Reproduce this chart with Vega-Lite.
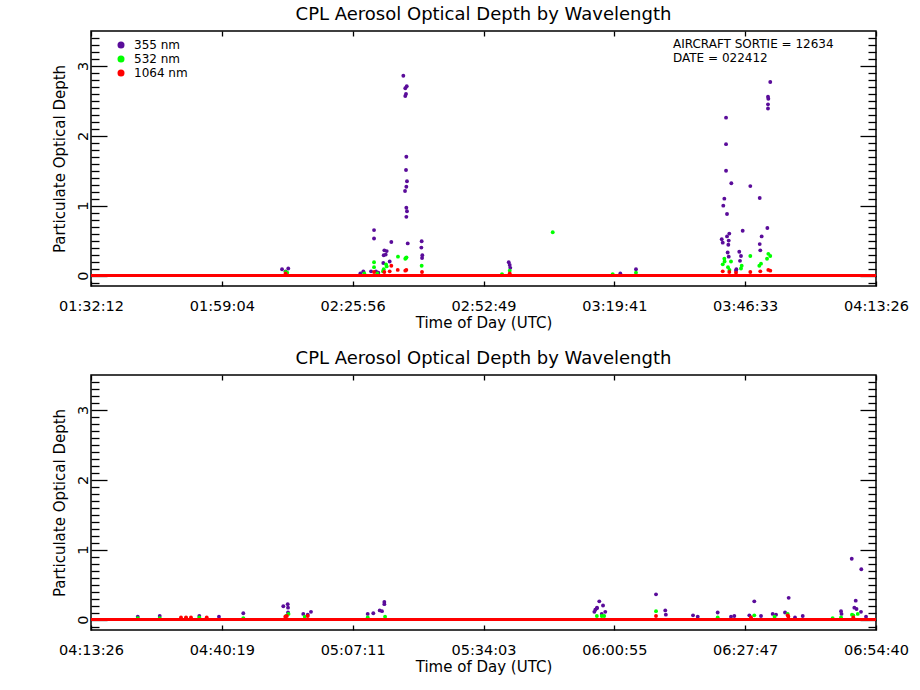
{
  "$schema": "https://vega.github.io/schema/vega-lite/v6.json",
  "padding": {"left": 51, "top": 5, "right": 5, "bottom": 5},
  "datasets": {
    "sortie1": [
      {"t": 7886, "wl": "355 nm", "aod": 0.09},
      {"t": 7963, "wl": "355 nm", "aod": 0.10},
      {"t": 7930, "wl": "355 nm", "aod": 0.06},
      {"t": 8851, "wl": "355 nm", "aod": 0.03},
      {"t": 8888, "wl": "355 nm", "aod": 0.06},
      {"t": 8983, "wl": "355 nm", "aod": 0.06},
      {"t": 9020, "wl": "355 nm", "aod": 0.65},
      {"t": 9020, "wl": "355 nm", "aod": 0.53},
      {"t": 9044, "wl": "355 nm", "aod": 0.06},
      {"t": 9073, "wl": "355 nm", "aod": 0.04},
      {"t": 9134, "wl": "355 nm", "aod": 0.18},
      {"t": 9139, "wl": "355 nm", "aod": 0.29},
      {"t": 9147, "wl": "355 nm", "aod": 0.36},
      {"t": 9164, "wl": "355 nm", "aod": 0.30},
      {"t": 9176, "wl": "355 nm", "aod": 0.35},
      {"t": 9213, "wl": "355 nm", "aod": 0.20},
      {"t": 9233, "wl": "355 nm", "aod": 0.48},
      {"t": 9381, "wl": "355 nm", "aod": 2.86},
      {"t": 9423, "wl": "355 nm", "aod": 2.71},
      {"t": 9405, "wl": "355 nm", "aod": 2.68},
      {"t": 9414, "wl": "355 nm", "aod": 2.60},
      {"t": 9405, "wl": "355 nm", "aod": 2.57},
      {"t": 9418, "wl": "355 nm", "aod": 1.70},
      {"t": 9414, "wl": "355 nm", "aod": 1.51},
      {"t": 9426, "wl": "355 nm", "aod": 1.35},
      {"t": 9418, "wl": "355 nm", "aod": 1.27},
      {"t": 9402, "wl": "355 nm", "aod": 1.21},
      {"t": 9418, "wl": "355 nm", "aod": 0.97},
      {"t": 9426, "wl": "355 nm", "aod": 0.92},
      {"t": 9418, "wl": "355 nm", "aod": 0.84},
      {"t": 9435, "wl": "355 nm", "aod": 0.46},
      {"t": 9607, "wl": "355 nm", "aod": 0.49},
      {"t": 9603, "wl": "355 nm", "aod": 0.40},
      {"t": 9615, "wl": "355 nm", "aod": 0.29},
      {"t": 9612, "wl": "355 nm", "aod": 0.25},
      {"t": 10680, "wl": "355 nm", "aod": 0.19},
      {"t": 10692, "wl": "355 nm", "aod": 0.15},
      {"t": 10699, "wl": "355 nm", "aod": 0.11},
      {"t": 12055, "wl": "355 nm", "aod": 0.03},
      {"t": 12248, "wl": "355 nm", "aod": 0.09},
      {"t": 13903, "wl": "355 nm", "aod": 2.77},
      {"t": 13875, "wl": "355 nm", "aod": 2.56},
      {"t": 13879, "wl": "355 nm", "aod": 2.53},
      {"t": 13875, "wl": "355 nm", "aod": 2.45},
      {"t": 13875, "wl": "355 nm", "aod": 2.39},
      {"t": 13358, "wl": "355 nm", "aod": 2.26},
      {"t": 13358, "wl": "355 nm", "aod": 1.88},
      {"t": 13358, "wl": "355 nm", "aod": 1.50},
      {"t": 13423, "wl": "355 nm", "aod": 1.32},
      {"t": 13657, "wl": "355 nm", "aod": 1.28},
      {"t": 13337, "wl": "355 nm", "aod": 1.10},
      {"t": 13324, "wl": "355 nm", "aod": 1.00},
      {"t": 13773, "wl": "355 nm", "aod": 1.11},
      {"t": 13370, "wl": "355 nm", "aod": 0.88},
      {"t": 13563, "wl": "355 nm", "aod": 0.64},
      {"t": 13867, "wl": "355 nm", "aod": 0.68},
      {"t": 13398, "wl": "355 nm", "aod": 0.60},
      {"t": 13370, "wl": "355 nm", "aod": 0.56},
      {"t": 13305, "wl": "355 nm", "aod": 0.52},
      {"t": 13391, "wl": "355 nm", "aod": 0.50},
      {"t": 13317, "wl": "355 nm", "aod": 0.47},
      {"t": 13386, "wl": "355 nm", "aod": 0.44},
      {"t": 13797, "wl": "355 nm", "aod": 0.56},
      {"t": 13773, "wl": "355 nm", "aod": 0.45},
      {"t": 13780, "wl": "355 nm", "aod": 0.36},
      {"t": 13521, "wl": "355 nm", "aod": 0.34},
      {"t": 13378, "wl": "355 nm", "aod": 0.33},
      {"t": 13542, "wl": "355 nm", "aod": 0.28},
      {"t": 13530, "wl": "355 nm", "aod": 0.21},
      {"t": 13391, "wl": "355 nm", "aod": 0.27},
      {"t": 13481, "wl": "355 nm", "aod": 0.07},
      {"t": 13485, "wl": "355 nm", "aod": 0.09},
      {"t": 7930, "wl": "532 nm", "aod": 0.05},
      {"t": 7950, "wl": "532 nm", "aod": 0.04},
      {"t": 8900, "wl": "532 nm", "aod": 0.03},
      {"t": 9020, "wl": "532 nm", "aod": 0.19},
      {"t": 9020, "wl": "532 nm", "aod": 0.12},
      {"t": 9315, "wl": "532 nm", "aod": 0.27},
      {"t": 9414, "wl": "532 nm", "aod": 0.25},
      {"t": 9405, "wl": "532 nm", "aod": 0.24},
      {"t": 9420, "wl": "532 nm", "aod": 0.26},
      {"t": 9168, "wl": "532 nm", "aod": 0.16},
      {"t": 9139, "wl": "532 nm", "aod": 0.09},
      {"t": 9607, "wl": "532 nm", "aod": 0.14},
      {"t": 9176, "wl": "532 nm", "aod": 0.13},
      {"t": 9130, "wl": "532 nm", "aod": 0.06},
      {"t": 9060, "wl": "532 nm", "aod": 0.03},
      {"t": 10597, "wl": "532 nm", "aod": 0.02},
      {"t": 10692, "wl": "532 nm", "aod": 0.07},
      {"t": 11222, "wl": "532 nm", "aod": 0.62},
      {"t": 11961, "wl": "532 nm", "aod": 0.02},
      {"t": 12248, "wl": "532 nm", "aod": 0.04},
      {"t": 13337, "wl": "532 nm", "aod": 0.24},
      {"t": 13419, "wl": "532 nm", "aod": 0.20},
      {"t": 13317, "wl": "532 nm", "aod": 0.16},
      {"t": 13382, "wl": "532 nm", "aod": 0.12},
      {"t": 13551, "wl": "532 nm", "aod": 0.14},
      {"t": 13542, "wl": "532 nm", "aod": 0.10},
      {"t": 13657, "wl": "532 nm", "aod": 0.28},
      {"t": 13879, "wl": "532 nm", "aod": 0.31},
      {"t": 13903, "wl": "532 nm", "aod": 0.28},
      {"t": 13863, "wl": "532 nm", "aod": 0.24},
      {"t": 13789, "wl": "532 nm", "aod": 0.17},
      {"t": 13768, "wl": "532 nm", "aod": 0.14},
      {"t": 13340, "wl": "532 nm", "aod": 0.20},
      {"t": 13400, "wl": "532 nm", "aod": 0.08},
      {"t": 7930, "wl": "1064 nm", "aod": 0.03},
      {"t": 9020, "wl": "1064 nm", "aod": 0.05},
      {"t": 9147, "wl": "1064 nm", "aod": 0.05},
      {"t": 9213, "wl": "1064 nm", "aod": 0.06},
      {"t": 9233, "wl": "1064 nm", "aod": 0.14},
      {"t": 9312, "wl": "1064 nm", "aod": 0.08},
      {"t": 9418, "wl": "1064 nm", "aod": 0.08},
      {"t": 9405, "wl": "1064 nm", "aod": 0.07},
      {"t": 9611, "wl": "1064 nm", "aod": 0.05},
      {"t": 10692, "wl": "1064 nm", "aod": 0.03},
      {"t": 13317, "wl": "1064 nm", "aod": 0.06},
      {"t": 13398, "wl": "1064 nm", "aod": 0.05},
      {"t": 13481, "wl": "1064 nm", "aod": 0.04},
      {"t": 13657, "wl": "1064 nm", "aod": 0.05},
      {"t": 13780, "wl": "1064 nm", "aod": 0.06},
      {"t": 13879, "wl": "1064 nm", "aod": 0.08},
      {"t": 13903, "wl": "1064 nm", "aod": 0.07}
    ],
    "sortie2": [
      {"t": 15782, "wl": "355 nm", "aod": 0.04},
      {"t": 16053, "wl": "355 nm", "aod": 0.05},
      {"t": 16541, "wl": "355 nm", "aod": 0.05},
      {"t": 16783, "wl": "355 nm", "aod": 0.04},
      {"t": 17083, "wl": "355 nm", "aod": 0.09},
      {"t": 17576, "wl": "355 nm", "aod": 0.19},
      {"t": 17630, "wl": "355 nm", "aod": 0.22},
      {"t": 17634, "wl": "355 nm", "aod": 0.17},
      {"t": 17634, "wl": "355 nm", "aod": 0.10},
      {"t": 17822, "wl": "355 nm", "aod": 0.08},
      {"t": 17877, "wl": "355 nm", "aod": 0.07},
      {"t": 17917, "wl": "355 nm", "aod": 0.11},
      {"t": 18616, "wl": "355 nm", "aod": 0.08},
      {"t": 18685, "wl": "355 nm", "aod": 0.09},
      {"t": 18764, "wl": "355 nm", "aod": 0.13},
      {"t": 18792, "wl": "355 nm", "aod": 0.12},
      {"t": 18821, "wl": "355 nm", "aod": 0.25},
      {"t": 18821, "wl": "355 nm", "aod": 0.22},
      {"t": 21409, "wl": "355 nm", "aod": 0.11},
      {"t": 21421, "wl": "355 nm", "aod": 0.14},
      {"t": 21442, "wl": "355 nm", "aod": 0.17},
      {"t": 21440, "wl": "355 nm", "aod": 0.16},
      {"t": 21470, "wl": "355 nm", "aod": 0.26},
      {"t": 21500, "wl": "355 nm", "aod": 0.08},
      {"t": 21516, "wl": "355 nm", "aod": 0.20},
      {"t": 21544, "wl": "355 nm", "aod": 0.11},
      {"t": 22169, "wl": "355 nm", "aod": 0.36},
      {"t": 22283, "wl": "355 nm", "aod": 0.13},
      {"t": 22290, "wl": "355 nm", "aod": 0.07},
      {"t": 22625, "wl": "355 nm", "aod": 0.06},
      {"t": 22683, "wl": "355 nm", "aod": 0.04},
      {"t": 22929, "wl": "355 nm", "aod": 0.10},
      {"t": 23093, "wl": "355 nm", "aod": 0.04},
      {"t": 23134, "wl": "355 nm", "aod": 0.05},
      {"t": 23319, "wl": "355 nm", "aod": 0.06},
      {"t": 23380, "wl": "355 nm", "aod": 0.26},
      {"t": 23463, "wl": "355 nm", "aod": 0.05},
      {"t": 23607, "wl": "355 nm", "aod": 0.08},
      {"t": 23648, "wl": "355 nm", "aod": 0.07},
      {"t": 23759, "wl": "355 nm", "aod": 0.10},
      {"t": 23804, "wl": "355 nm", "aod": 0.31},
      {"t": 23882, "wl": "355 nm", "aod": 0.03},
      {"t": 23977, "wl": "355 nm", "aod": 0.05},
      {"t": 24449, "wl": "355 nm", "aod": 0.12},
      {"t": 24455, "wl": "355 nm", "aod": 0.08},
      {"t": 24581, "wl": "355 nm", "aod": 0.87},
      {"t": 24699, "wl": "355 nm", "aod": 0.72},
      {"t": 24630, "wl": "355 nm", "aod": 0.27},
      {"t": 24613, "wl": "355 nm", "aod": 0.17},
      {"t": 24640, "wl": "355 nm", "aod": 0.15},
      {"t": 24695, "wl": "355 nm", "aod": 0.11},
      {"t": 24757, "wl": "355 nm", "aod": 0.04},
      {"t": 15782, "wl": "532 nm", "aod": 0.02},
      {"t": 16053, "wl": "532 nm", "aod": 0.02},
      {"t": 16377, "wl": "532 nm", "aod": 0.02},
      {"t": 16541, "wl": "532 nm", "aod": 0.03},
      {"t": 17083, "wl": "532 nm", "aod": 0.02},
      {"t": 17610, "wl": "532 nm", "aod": 0.05},
      {"t": 17640, "wl": "532 nm", "aod": 0.08},
      {"t": 17840, "wl": "532 nm", "aod": 0.04},
      {"t": 18616, "wl": "532 nm", "aod": 0.03},
      {"t": 18830, "wl": "532 nm", "aod": 0.04},
      {"t": 21440, "wl": "532 nm", "aod": 0.05},
      {"t": 21500, "wl": "532 nm", "aod": 0.05},
      {"t": 21530, "wl": "532 nm", "aod": 0.05},
      {"t": 22169, "wl": "532 nm", "aod": 0.12},
      {"t": 22929, "wl": "532 nm", "aod": 0.03},
      {"t": 23380, "wl": "532 nm", "aod": 0.06},
      {"t": 23630, "wl": "532 nm", "aod": 0.04},
      {"t": 23792, "wl": "532 nm", "aod": 0.08},
      {"t": 24346, "wl": "532 nm", "aod": 0.02},
      {"t": 24449, "wl": "532 nm", "aod": 0.03},
      {"t": 24584, "wl": "532 nm", "aod": 0.07},
      {"t": 24655, "wl": "532 nm", "aod": 0.08},
      {"t": 24600, "wl": "532 nm", "aod": 0.06},
      {"t": 16315, "wl": "1064 nm", "aod": 0.03},
      {"t": 16377, "wl": "1064 nm", "aod": 0.03},
      {"t": 16438, "wl": "1064 nm", "aod": 0.03},
      {"t": 16632, "wl": "1064 nm", "aod": 0.03},
      {"t": 17600, "wl": "1064 nm", "aod": 0.04},
      {"t": 17620, "wl": "1064 nm", "aod": 0.05},
      {"t": 17877, "wl": "1064 nm", "aod": 0.05},
      {"t": 22169, "wl": "1064 nm", "aod": 0.05},
      {"t": 23340, "wl": "1064 nm", "aod": 0.03},
      {"t": 23792, "wl": "1064 nm", "aod": 0.06},
      {"t": 23800, "wl": "1064 nm", "aod": 0.04},
      {"t": 24600, "wl": "1064 nm", "aod": 0.03}
    ]
  },
  "vconcat": [
    {
      "width": 785,
      "height": 255,
      "title": "CPL Aerosol Optical Depth by Wavelength",
      "layer": [
        {
          "data": {"name": "sortie1"},
          "mark": {"type": "circle", "size": 15, "opacity": 1},
          "encoding": {
            "x": {
              "field": "t",
              "type": "quantitative",
              "scale": {"domain": [5532, 15206], "nice": false, "zero": false},
              "axis": {
                "orient": "bottom",
                "title": "Time of Day (UTC)",
                "values": [5532, 7144, 8756, 10369, 11981, 13593, 15206],
                "labelExpr": "utcFormat(datum.value * 1000, '%H:%M:%S')",
                "tickSize": -5,
                "labelPadding": 18,
                "titlePadding": 3
              }
            },
            "y": {
              "field": "aod",
              "type": "quantitative",
              "scale": {"domain": [-0.15, 3.5], "nice": false, "zero": false},
              "axis": {
                "orient": "left",
                "title": "Particulate Optical Depth",
                "values": [-0.1, 0, 0.1, 0.2, 0.3, 0.4, 0.5, 0.6, 0.7, 0.8, 0.9, 1, 1.1, 1.2, 1.3, 1.4, 1.5, 1.6, 1.7, 1.8, 1.9, 2, 2.1, 2.2, 2.3, 2.4, 2.5, 2.6, 2.7, 2.8, 2.9, 3, 3.1, 3.2, 3.3, 3.4],
                "labelExpr": "datum.value % 1 === 0 ? format(datum.value, 'd') : ''",
                "tickSize": {"condition": {"test": "datum.value % 1 === 0", "value": -16}, "value": -8},
                "labelAngle": -90,
                "labelAlign": "center",
                "labelBaseline": "bottom",
                "labelPadding": 17,
                "titlePadding": 0
              }
            },
            "color": {
              "field": "wl",
              "type": "nominal",
              "scale": {"domain": ["355 nm", "532 nm", "1064 nm"], "range": ["#5a0c9a", "#00ff00", "#ff0000"]},
              "legend": {
                "title": null,
                "orient": "none",
                "legendX": 24,
                "legendY": 8,
                "padding": 0,
                "symbolType": "circle",
                "symbolSize": 49,
                "symbolStrokeWidth": 0,
                "symbolOpacity": 1,
                "labelFontSize": 12,
                "labelOffset": 7,
                "rowPadding": 2
              }
            }
          }
        },
        {
          "data": {"values": [{}]},
          "mark": {"type": "rule", "color": "#ff0000", "strokeWidth": 3},
          "encoding": {
            "x": {
              "datum": 5532,
              "type": "quantitative",
              "scale": {"domain": [5532, 15206], "nice": false, "zero": false},
              "axis": {
                "orient": "top",
                "title": null,
                "labels": false,
                "values": [5532, 7144, 8756, 10369, 11981, 13593, 15206],
                "tickSize": -5
              }
            },
            "x2": {"datum": 15206},
            "y": {
              "datum": 0,
              "type": "quantitative",
              "scale": {"domain": [-0.15, 3.5], "nice": false, "zero": false},
              "axis": {
                "orient": "right",
                "title": null,
                "labels": false,
                "values": [-0.1, 0, 0.1, 0.2, 0.3, 0.4, 0.5, 0.6, 0.7, 0.8, 0.9, 1, 1.1, 1.2, 1.3, 1.4, 1.5, 1.6, 1.7, 1.8, 1.9, 2, 2.1, 2.2, 2.3, 2.4, 2.5, 2.6, 2.7, 2.8, 2.9, 3, 3.1, 3.2, 3.3, 3.4],
                "tickSize": {"condition": {"test": "datum.value % 1 === 0", "value": -16}, "value": -8}
              }
            }
          }
        },
        {
          "data": {"values": [{}]},
          "mark": {"type": "text", "align": "left", "baseline": "alphabetic", "fontSize": 12, "lineHeight": 14, "color": "#000000",
                   "text": ["AIRCRAFT SORTIE = 12634", "DATE = 022412"]},
          "encoding": {
            "x": {"datum": 12704, "type": "quantitative", "axis": null},
            "y": {"datum": 3.25, "type": "quantitative", "axis": null}
          }
        }
      ],
      "resolve": {"axis": {"x": "independent", "y": "independent"}}
    },
    {
      "width": 785,
      "height": 255,
      "title": "CPL Aerosol Optical Depth by Wavelength",
      "layer": [
        {
          "data": {"name": "sortie2"},
          "mark": {"type": "circle", "size": 15, "opacity": 1},
          "encoding": {
            "x": {
              "field": "t",
              "type": "quantitative",
              "scale": {"domain": [15206, 24880], "nice": false, "zero": false},
              "axis": {
                "orient": "bottom",
                "title": "Time of Day (UTC)",
                "values": [15206, 16819, 18431, 20043, 21655, 23267, 24880],
                "labelExpr": "utcFormat(datum.value * 1000, '%H:%M:%S')",
                "tickSize": -5,
                "labelPadding": 18,
                "titlePadding": 3
              }
            },
            "y": {
              "field": "aod",
              "type": "quantitative",
              "scale": {"domain": [-0.15, 3.5], "nice": false, "zero": false},
              "axis": {
                "orient": "left",
                "title": "Particulate Optical Depth",
                "values": [-0.1, 0, 0.1, 0.2, 0.3, 0.4, 0.5, 0.6, 0.7, 0.8, 0.9, 1, 1.1, 1.2, 1.3, 1.4, 1.5, 1.6, 1.7, 1.8, 1.9, 2, 2.1, 2.2, 2.3, 2.4, 2.5, 2.6, 2.7, 2.8, 2.9, 3, 3.1, 3.2, 3.3, 3.4],
                "labelExpr": "datum.value % 1 === 0 ? format(datum.value, 'd') : ''",
                "tickSize": {"condition": {"test": "datum.value % 1 === 0", "value": -16}, "value": -8},
                "labelAngle": -90,
                "labelAlign": "center",
                "labelBaseline": "bottom",
                "labelPadding": 17,
                "titlePadding": 0
              }
            },
            "color": {
              "field": "wl",
              "type": "nominal",
              "scale": {"domain": ["355 nm", "532 nm", "1064 nm"], "range": ["#5a0c9a", "#00ff00", "#ff0000"]},
              "legend": null
            }
          }
        },
        {
          "data": {"values": [{}]},
          "mark": {"type": "rule", "color": "#ff0000", "strokeWidth": 3},
          "encoding": {
            "x": {
              "datum": 15206,
              "type": "quantitative",
              "scale": {"domain": [15206, 24880], "nice": false, "zero": false},
              "axis": {
                "orient": "top",
                "title": null,
                "labels": false,
                "values": [15206, 16819, 18431, 20043, 21655, 23267, 24880],
                "tickSize": -5
              }
            },
            "x2": {"datum": 24880},
            "y": {
              "datum": 0,
              "type": "quantitative",
              "scale": {"domain": [-0.15, 3.5], "nice": false, "zero": false},
              "axis": {
                "orient": "right",
                "title": null,
                "labels": false,
                "values": [-0.1, 0, 0.1, 0.2, 0.3, 0.4, 0.5, 0.6, 0.7, 0.8, 0.9, 1, 1.1, 1.2, 1.3, 1.4, 1.5, 1.6, 1.7, 1.8, 1.9, 2, 2.1, 2.2, 2.3, 2.4, 2.5, 2.6, 2.7, 2.8, 2.9, 3, 3.1, 3.2, 3.3, 3.4],
                "tickSize": {"condition": {"test": "datum.value % 1 === 0", "value": -16}, "value": -8}
              }
            }
          }
        }
      ],
      "resolve": {"axis": {"x": "independent", "y": "independent"}}
    }
  ],
  "spacing": 17,
  "resolve": {"legend": {"color": "independent"}},
  "config": {
    "font": "DejaVu Sans",
    "background": "#ffffff",
    "view": {"stroke": "#000000", "strokeWidth": 1.5},
    "axis": {
      "domain": false,
      "grid": false,
      "labelFont": "DejaVu Sans",
      "labelFontSize": 14.5,
      "labelColor": "#000000",
      "labelFlush": false,
      "labelOverlap": false,
      "labelBound": false,
      "titleFont": "DejaVu Sans",
      "titleFontSize": 15,
      "titleFontWeight": "normal",
      "titleColor": "#000000",
      "tickColor": "#000000",
      "tickWidth": 1.3
    },
    "title": {"font": "DejaVu Sans", "fontSize": 18, "fontWeight": "normal", "color": "#000000", "offset": 6},
    "legend": {"labelFont": "DejaVu Sans", "labelColor": "#000000"},
    "text": {"font": "DejaVu Sans"}
  }
}
